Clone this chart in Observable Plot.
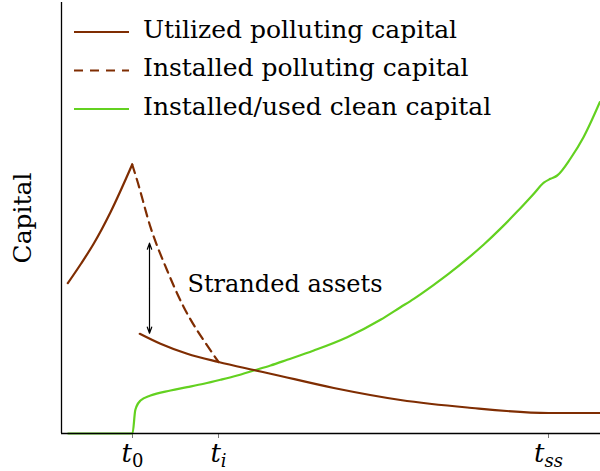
<!DOCTYPE html>
<html>
<head>
<meta charset="utf-8">
<script src="https://cdn.jsdelivr.net/npm/d3@7"></script>
<script src="https://cdn.jsdelivr.net/npm/@observablehq/plot@0.6"></script>
<style>
  html, body { margin: 0; padding: 0; background: #fff; }
  #chart { position: relative; width: 600px; height: 471px; }
</style>
</head>
<body>
<div id="chart"></div>
<script>
// ---- data (time, capital) ----
const tickValues = [71, 157, 487];
const tickBase = ["t", "t", "t"];
const tickSubs = ["0", "i", "ss"];
const tickSubItalic = [false, true, true];

const utilizedBefore = [
  [6.3, 150.3], [19, 169], [32.3, 190], [49, 221.3], [70.7, 269]
];
const installedDecline = [
  [70.7, 269], [75.7, 253], [89, 206.3], [105.7, 163], [122.3, 126.3],
  [135.7, 103], [142.3, 93], [157, 71.5]
];
const utilizedAfter = [
  [78.3, 99.7], [99, 89.7], [125.7, 79.7], [157, 71.5], [192.3, 63.5],
  [209, 59.8], [272.3, 45.5], [339, 33.5], [405.7, 26], [487, 20.5], [539, 20.5]
];
const cleanCapital = [
  [6.7, 0], [71, 0], [73.7, 23], [75, 27], [79, 33], [89, 38], [109, 43],
  [125.7, 46.3], [142.3, 49.7], [159, 53.7], [175.7, 58], [192.3, 63],
  [209, 68], [225.7, 73.7], [252.3, 83], [285.7, 96.3], [319, 113.7],
  [339, 126.3], [352.3, 134.7], [372.3, 148.7], [387, 159.6], [405.7, 174.6],
  [422.3, 189], [439, 204.9], [455.7, 221.9], [472.3, 239.8], [482.3, 250.8],
  [489, 254.7], [495.7, 258], [509, 275], [522, 296.3], [538.3, 331.3]
];
const strandedArrow = {t: 88, low: 100.3, high: 190.3, mid: 145};
const strandedLabel = {t: 126, v: 149, text: "Stranded assets"};

const legendLabels = ["Utilized polluting capital", "Installed polluting capital", "Installed/used clean capital"];
const legendColors = ["#7f2d02", "#7f2d02", "#63d120"];
const legendDashes = [null, "9,7", null];

const brown = "#7f2d02";
const green = "#63d120";
const FONT = "DejaVu Serif";

const plot = Plot.plot({
  width: 600,
  height: 471,
  marginLeft: 61,
  marginRight: 0,
  marginTop: 2,
  marginBottom: 38,
  style: {fontFamily: FONT, fontSize: "25px", background: "#fff", color: "#000"},
  x: {domain: [0, 539]},
  y: {domain: [0, 431], axis: null},
  marks: [
    Plot.axisX({ticks: tickValues, tickFormat: (d, i) => tickBase[i], tickSize: 5, tickPadding: 5, stroke: "#777", label: null, fontSize: 26}),
    Plot.text(["Capital"], {frameAnchor: "left", textAnchor: "middle", dx: -39, rotate: -90, fontSize: 25}),
    Plot.line(cleanCapital, {x: d => d[0], y: d => d[1], stroke: green, strokeWidth: 2.2, curve: "monotone-x"}),
    Plot.line(utilizedBefore, {x: d => d[0], y: d => d[1], stroke: brown, strokeWidth: 2.2, curve: "monotone-x"}),
    Plot.line(installedDecline, {x: d => d[0], y: d => d[1], stroke: brown, strokeWidth: 2.2, strokeDasharray: "9,6", curve: "monotone-x"}),
    Plot.line(utilizedAfter, {x: d => d[0], y: d => d[1], stroke: brown, strokeWidth: 2.2, curve: "monotone-x"}),
    Plot.arrow([strandedArrow], {x: d => d.t, y1: d => d.mid, y2: d => d.high, stroke: "#000", strokeWidth: 1.2, headLength: 8, headAngle: 40}),
    Plot.arrow([strandedArrow], {x: d => d.t, y1: d => d.mid, y2: d => d.low, stroke: "#000", strokeWidth: 1.2, headLength: 8, headAngle: 40}),
    Plot.text([strandedLabel], {x: "t", y: "v", text: "text", textAnchor: "start", fontSize: 24}),
    Plot.ruleX([0], {stroke: "#000", strokeWidth: 1.3}),
    Plot.ruleY([0], {stroke: "#000", strokeWidth: 1.3})
  ]
});

// italic t with subscripts on the x tick labels
const svg = d3.select(plot);
svg.selectAll('g[aria-label="x-axis tick label"] text').each(function(d, i) {
  const txt = d3.select(this);
  txt.text(null);
  txt.append("tspan").attr("font-style", "italic").text(tickBase[i]);
  txt.append("tspan").attr("font-size", 18).attr("dy", 5)
    .attr("font-style", tickSubItalic[i] ? "italic" : "normal").text(tickSubs[i]);
});

// legend inside the plot area (top-left)
const leg = svg.append("g").attr("font-family", FONT).attr("font-size", 25).attr("text-anchor", "start");
legendLabels.forEach((label, i) => {
  const yy = 32 + 38.5 * i;
  leg.append("line").attr("x1", 74).attr("x2", 129).attr("y1", yy).attr("y2", yy)
    .attr("stroke", legendColors[i]).attr("stroke-width", 2.2)
    .attr("stroke-dasharray", legendDashes[i]);
  leg.append("text").attr("x", 143).attr("y", yy).attr("dy", 5.5).attr("fill", "#000").text(label);
});

document.getElementById("chart").appendChild(plot);
</script>
</body>
</html>
